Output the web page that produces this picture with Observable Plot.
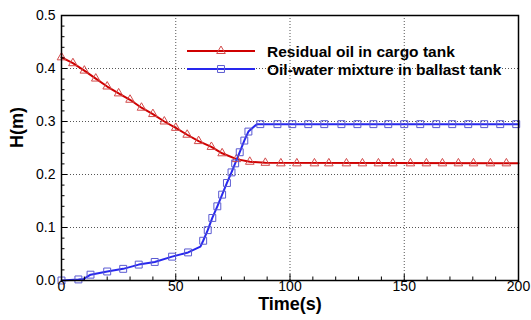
<!DOCTYPE html>
<html>
<head>
<meta charset="utf-8">
<script src="https://cdn.jsdelivr.net/npm/d3@7"></script>
<script src="https://cdn.jsdelivr.net/npm/@observablehq/plot@0.6"></script>
<style>
  html, body { margin: 0; padding: 0; background: #fff; }
  #chart svg { display: block; }
</style>
</head>
<body>
<div id="chart"></div>
<script>
// ---- Data ----
const seriesNames = ["Residual oil in cargo tank", "Oil-water mixture in ballast tank"];

// Residual oil in cargo tank: line vertices
const redLineT = [0, 5, 10, 15, 20, 25, 30, 35, 40, 45, 50, 55, 60, 65.6, 70.3, 76.6, 82.4, 89.2, 200];
const redLineH = [0.421, 0.410, 0.396, 0.381, 0.366, 0.353, 0.341, 0.326, 0.314, 0.300, 0.288, 0.275, 0.263, 0.252, 0.240, 0.229, 0.224, 0.222, 0.221];
// Residual oil markers
const redMarkT = [0, 5, 10, 15, 20, 25, 30, 35, 40, 45, 50, 55, 60, 65.6, 70.3, 76.6, 82.4, 89.2, 96, 103, 110.7, 117, 124.7, 131.7, 138.7, 145, 152.7, 159.7, 166.7, 173.7, 180.3, 187.7, 194.7];
const redMarkH = [0.421, 0.410, 0.396, 0.381, 0.366, 0.353, 0.341, 0.326, 0.314, 0.300, 0.288, 0.275, 0.263, 0.252, 0.240, 0.229, 0.224, 0.222, 0.221, 0.221, 0.221, 0.221, 0.221, 0.221, 0.221, 0.221, 0.221, 0.221, 0.221, 0.221, 0.221, 0.221, 0.221];

// Oil-water mixture in ballast tank: line vertices
const blueLineT = [0, 7.4, 9.8, 12.7, 20, 27, 33.8, 40.8, 48.4, 55.4, 60.8, 62, 64, 66, 68.2, 70.3, 72.4, 74.4, 76, 78, 80, 81.8, 85.5, 200];
const blueLineH = [0, 0.002, 0.003, 0.011, 0.017, 0.022, 0.030, 0.035, 0.045, 0.053, 0.064, 0.075, 0.095, 0.118, 0.140, 0.162, 0.184, 0.204, 0.221, 0.242, 0.264, 0.281, 0.295, 0.295];
// Oil-water mixture markers
const blueMarkT = [0, 7.4, 12.7, 20, 27, 33.8, 40.8, 48.4, 55.4, 62, 64, 66, 68.2, 70.3, 72.4, 74.4, 76, 78, 80, 81.8, 87, 94.5, 101, 108, 115, 122.5, 129.5, 136.5, 143, 150, 157, 164, 171, 178, 185, 192, 199];
const blueMarkH = [0, 0.002, 0.011, 0.017, 0.022, 0.030, 0.035, 0.045, 0.053, 0.075, 0.095, 0.118, 0.140, 0.162, 0.184, 0.204, 0.221, 0.242, 0.264, 0.281, 0.295, 0.295, 0.295, 0.295, 0.295, 0.295, 0.295, 0.295, 0.295, 0.295, 0.295, 0.295, 0.295, 0.295, 0.295, 0.295, 0.295];

// Axis ticks
const xMajor = [0, 50, 100, 150, 200];
const xMinor = [10, 20, 30, 40, 60, 70, 80, 90, 110, 120, 130, 140, 160, 170, 180, 190];
const yMajor = [0, 0.1, 0.2, 0.3, 0.4, 0.5];
const yMinor = [0.02, 0.04, 0.06, 0.08, 0.12, 0.14, 0.16, 0.18, 0.22, 0.24, 0.26, 0.28, 0.32, 0.34, 0.36, 0.38, 0.42, 0.44, 0.46, 0.48];
const xGrid = [50, 100, 150];
const yGrid = [0.1, 0.2, 0.3, 0.4];
const xLabel = "Time(s)";
const yLabel = "H(m)";

// ---- Build tables ----
const zip = (T, H) => T.map((t, i) => ({t, h: H[i]}));
const redLine = zip(redLineT, redLineH);
const redMarks = zip(redMarkT, redMarkH);
const blueLine = zip(blueLineT, blueLineH);
const blueMarks = zip(blueMarkT, blueMarkH);

const RED = "#d00000", RED_M = "#d24a4a";
const BLUE = "#2828ee", BLUE_M = "#5a5ad2";

const chart = Plot.plot({
  width: 531,
  height: 320,
  marginLeft: 61,
  marginRight: 13,
  marginTop: 15,
  marginBottom: 40,
  x: {domain: [0, 200]},
  y: {domain: [0, 0.5]},
  style: {fontFamily: "'Liberation Sans', Arial, sans-serif", color: "#000", background: "#fff"},
  marks: [
    Plot.gridX(xGrid, {stroke: "#555", strokeOpacity: 1, strokeDasharray: "1,2"}),
    Plot.gridY(yGrid, {stroke: "#555", strokeOpacity: 1, strokeDasharray: "1,2"}),
    Plot.line(redLine, {x: "t", y: "h", stroke: RED, strokeWidth: 2}),
    Plot.line(blueLine, {x: "t", y: "h", stroke: BLUE, strokeWidth: 2}),
    Plot.dot(redMarks, {x: "t", y: "h", symbol: "triangle", r: 3.2, stroke: RED_M, fill: "none", strokeWidth: 1}),
    Plot.dot(blueMarks, {x: "t", y: "h", symbol: "square", r: 3.9, stroke: BLUE_M, fill: "none", strokeWidth: 1}),
    Plot.frame({stroke: "#000", strokeWidth: 1.5}),
    // inward major ticks
    Plot.axisX(xMajor, {anchor: "bottom", tickSize: 6, dy: -6, text: null, label: null}),
    Plot.axisY(yMajor, {anchor: "left", tickSize: 6, dx: 6, text: null, label: null}),
    // inward minor ticks
    Plot.axisX(xMinor, {anchor: "bottom", tickSize: 3.5, dy: -3.5, text: null, label: null}),
    Plot.axisY(yMinor, {anchor: "left", tickSize: 3.5, dx: 3.5, text: null, label: null}),
    // tick labels
    Plot.axisX(xMajor, {anchor: "bottom", tickSize: 0, tickPadding: 1, fontSize: 14, label: null}),
    Plot.axisY(yMajor, {anchor: "left", tickSize: 0, tickPadding: 6, fontSize: 14, tickFormat: d3.format(".1f"), label: null}),
    // axis titles
    Plot.text([yLabel], {frameAnchor: "left", dx: -44, rotate: -90, fontSize: 18, fontWeight: "bold", fill: "#000"}),
    Plot.text([xLabel], {frameAnchor: "bottom", dy: 29, fontSize: 18, fontWeight: "bold", fill: "#000"})
  ]
});
document.getElementById("chart").appendChild(chart);

// ---- Legend (inside the plot area) ----
const svg = d3.select(chart);
const lg = svg.append("g")
  .attr("font-family", "'Liberation Sans', Arial, sans-serif")
  .attr("text-anchor", "start");
const legendItems = [
  {name: seriesNames[0], line: RED, mark: RED_M, sym: d3.symbolTriangle, r: 3.2, y: 51},
  {name: seriesNames[1], line: BLUE, mark: BLUE_M, sym: d3.symbolSquare, r: 3.9, y: 69}
];
legendItems.forEach(it => {
  lg.append("line").attr("x1", 187).attr("x2", 255).attr("y1", it.y).attr("y2", it.y)
    .attr("stroke", it.line).attr("stroke-width", 2);
  lg.append("path").attr("d", d3.symbol(it.sym, it.r * it.r * Math.PI)())
    .attr("transform", `translate(221,${it.y})`).attr("fill", "none").attr("stroke", it.mark);
  lg.append("text").attr("x", 267).attr("y", it.y).attr("dy", "0.36em")
    .attr("text-anchor", "start")
    .attr("font-size", 15.5).attr("font-weight", "bold").attr("fill", "#000").text(it.name);
});
</script>
</body>
</html>
